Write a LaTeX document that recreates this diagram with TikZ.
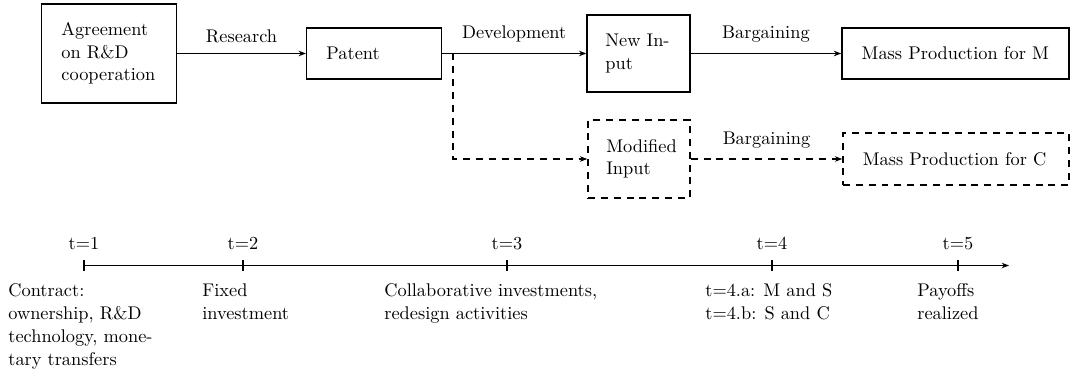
\documentclass[tikz,border=0pt]{standalone}
\usetikzlibrary{arrows.meta}
\begin{document}
\begin{tikzpicture}[x=0.545pt,y=-0.545pt,
  every node/.style={font=\fontsize{10}{12.3}\selectfont},
  box/.style={draw, line width=0.8pt, inner xsep=10.8pt, inner ysep=0pt, align=left},
  dbox/.style={box, dash pattern=on 3.8pt off 3.2pt},
  flow/.style={line width=0.8pt, -{Stealth[length=4pt,width=3pt]}},
  dflow/.style={flow, dash pattern=on 3.8pt off 3.2pt},
  lbl/.style={above, yshift=2.3pt},
  tickmark/.style={line width=0.8pt},
  desc/.style={anchor=north west, align=left, inner sep=0pt, font=\fontsize{10}{12.5}\selectfont}]
\useasboundingbox (0,0) rectangle (1070,369);
% boxes
\node[box, text width=51.8pt, minimum height=54pt] (agree) at (109,53.5) {Agreement\\on R\&D\\cooperation};
\node[box, text width=51.8pt, minimum height=27.8pt] (patent) at (374,53.5) {Patent};
\node[box, inner xsep=10pt, text width=36.1pt, minimum height=42pt] (newin) at (638.5,53.5) {New In-\\put};
\node[box, text width=102.2pt, minimum height=27.8pt] (massM) at (955.5,53.5) {Mass Production for M};
\node[dbox, inner xsep=10pt, text width=35.6pt, minimum height=42.5pt] (modin) at (639,159) {Modified\\Input};
\node[dbox, text width=101.6pt, minimum height=28.3pt] (massC) at (956,159) {Mass Production for C};
% connectors
\draw[flow] (agree) -- node[lbl] {Research} (patent);
\draw[flow] (patent) -- node[lbl] {Development} (newin);
\draw[flow] (newin) -- node[lbl] {Bargaining} (massM);
\coordinate (br) at (453,53.5);
\draw[dflow] (br) |- (modin.west);
\draw[dflow] (modin) -- node[lbl] {Bargaining} (massC);
% timeline
\coordinate (tstart) at (84,265.5);
\coordinate (tend) at (1009,265.5);
\draw[flow] (tstart) -- (tend);
\foreach \x/\n in {84/1,243/2,507/3,772/4,958/5} {
  \draw[tickmark] (\x,260) -- (\x,271);
  \node[anchor=base] (t\n) at (\x,250) {t=\n};
}
\node[desc] (d1) at (8,283.3) {Contract:\\ownership, R\&D\\technology, mone-\\tary transfers};
\node[desc] (d2) at (202,283.3) {Fixed\\investment};
\node[desc] (d3) at (384,283.3) {Collaborative investments,\\redesign activities};
\node[desc] (d4) at (705,283.3) {t=4.a: M and S\\t=4.b: S and C};
\node[desc] (d5) at (917,283.3) {Payoffs\\realized};
\end{tikzpicture}
\end{document}
